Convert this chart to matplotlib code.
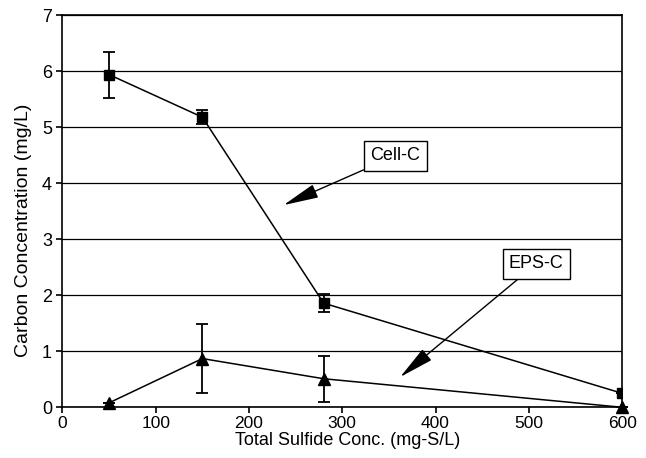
import matplotlib
matplotlib.use("Agg")
import matplotlib.pyplot as plt

plt.rcParams['font.family'] = ['Liberation Sans', 'DejaVu Sans']

sulfide = [50, 150, 280, 600]
cell_c = [5.94, 5.18, 1.86, 0.25]
cell_err = [0.41, 0.12, 0.16, 0.0]
eps_c = [0.08, 0.87, 0.51, 0.0]
eps_err = [0.0, 0.62, 0.41, 0.0]
yticks = [0, 1, 2, 3, 4, 5, 6, 7]
xticks = [0, 100, 200, 300, 400, 500, 600]

fig = plt.figure(figsize=(6.46, 4.58), dpi=100)
ax = fig.add_axes([0.0967, 0.1107, 0.8663, 0.856])

ax.errorbar(sulfide, cell_c, yerr=cell_err, color='black', marker='s', markersize=7,
            linewidth=1.1, elinewidth=1.3, capsize=4, capthick=1.3, zorder=3)
ax.errorbar(sulfide, eps_c, yerr=eps_err, color='black', marker='^', markersize=9,
            linewidth=1.1, elinewidth=1.3, capsize=4, capthick=1.3, zorder=3, clip_on=False)

ax.set_xlim(0, 600)
ax.set_ylim(0, 7)
ax.set_xticks(xticks)
ax.set_yticks(yticks)
ax.yaxis.grid(True, color='black', linewidth=0.9)
ax.set_axisbelow(True)
for s in ax.spines.values():
    s.set_linewidth(1.2)
ax.tick_params(axis='both', direction='out', length=4, width=1.2, labelsize=13)
ax.tick_params(axis='x', labelsize=12.5, pad=2)
ax.set_xlabel('Total Sulfide Conc. (mg-S/L)', fontsize=13)
ax.set_ylabel('Carbon Concentration (mg/L)', fontsize=14)
ax.xaxis.set_label_coords(0.509, -0.062)
ax.yaxis.set_label_coords(-0.055, 0.452)

box = dict(boxstyle='square,pad=0.35', fc='white', ec='black', lw=1.0)
arrow = dict(arrowstyle='-|>,head_length=1.1,head_width=0.22', color='black', lw=1.0,
             mutation_scale=20, shrinkA=0, shrinkB=0)
ax.annotate('Cell-C', xy=(237, 3.61), xytext=(357, 4.49), fontsize=13,
            ha='center', va='center', bbox=box, arrowprops=arrow)
ax.annotate('EPS-C', xy=(362, 0.54), xytext=(508, 2.56), fontsize=13,
            ha='center', va='center', bbox=box, arrowprops=arrow)

fig.savefig('out.png', dpi=100)
